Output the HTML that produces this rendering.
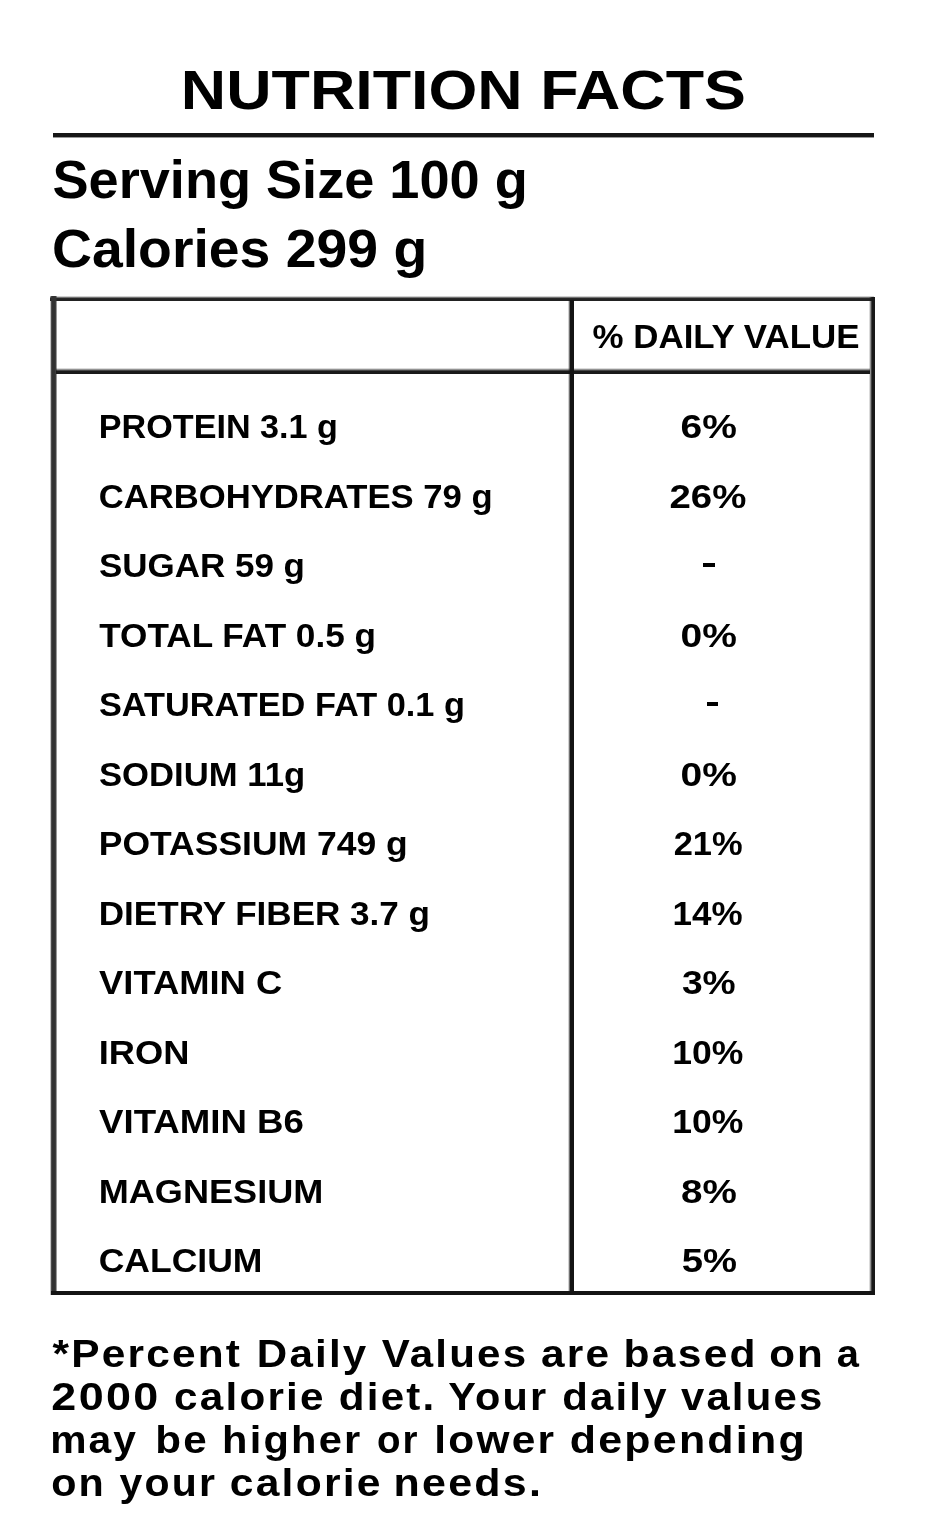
<!DOCTYPE html>
<html><head><meta charset="utf-8"><title>Nutrition Facts</title>
<style>
html,body{margin:0;padding:0;background:#fff}
body{width:940px;height:1523px;position:relative;overflow:hidden;font-family:"Liberation Sans",sans-serif}
#w{position:absolute;left:0;top:0;width:940px;height:1523px;filter:blur(0.75px)}
.r{position:absolute}
svg{position:absolute;left:0;top:0}
svg text{font-family:"Liberation Sans",sans-serif;font-weight:bold;fill:#000;white-space:pre}
</style></head><body><div id="w">
<div class="r" style="left:53.3px;top:132.8px;width:821.1px;height:5.2px;background:linear-gradient(to bottom,rgba(22,22,22,0) 0px,rgba(22,22,22,1) 0.5px,rgba(22,22,22,1) 3.6px,rgba(22,22,22,0) 5.2px)"></div>
<div class="r" style="left:50.4px;top:295.6px;width:824.1px;height:5.8px;background:linear-gradient(to bottom,rgba(34,34,34,0) 0px,rgba(34,34,34,0.6) 1.4px,rgba(34,34,34,1) 2.6px,rgba(34,34,34,1) 5.8px)"></div>
<div class="r" style="left:49.6px;top:296.2px;width:7.6px;height:998.4px;background:linear-gradient(to right,rgba(50,50,50,0) 0px,rgba(50,50,50,1) 1.7px,rgba(50,50,50,1) 5.4px,rgba(50,50,50,0) 7.6px)"></div>
<div class="r" style="left:868.6px;top:297px;width:6.0px;height:997.6px;background:linear-gradient(to right,rgba(24,24,24,0) 0px,rgba(24,24,24,0.5) 1.6px,rgba(24,24,24,1) 3.0px,rgba(24,24,24,1) 6px)"></div>
<div class="r" style="left:50.6px;top:1291px;width:824.0px;height:3.7px;background:#141414"></div>
<div class="r" style="left:56px;top:367.9px;width:814px;height:6.5px;background:linear-gradient(to bottom,rgba(26,26,26,0) 0px,rgba(26,26,26,0.5) 1.6px,rgba(26,26,26,1) 3.1px,rgba(26,26,26,1) 6.5px)"></div>
<div class="r" style="left:567.9px;top:300px;width:6.0px;height:992px;background:linear-gradient(to right,rgba(20,20,20,0) 0px,rgba(20,20,20,0.5) 1.3px,rgba(20,20,20,1) 2.2px,rgba(20,20,20,1) 6px)"></div>
<div class="r" style="left:702.6px;top:562.9px;width:12.0px;height:4.4px;background:#000"></div>
<div class="r" style="left:706.6px;top:701.9px;width:11.6px;height:4.3px;background:#000"></div>
<svg width="940" height="1523" viewBox="0 0 940 1523">
<text transform="translate(180.86 108.80) scale(1.1317 1)" font-size="55.5">NUTRITION FACTS</text>
<text transform="translate(52.51 197.50) scale(0.9932 1)" font-size="54.5">Serving Size 100 g</text>
<text transform="translate(52.02 266.70) scale(1.0153 1)" font-size="54.5">Calories 299 g</text>
<text transform="translate(592.59 347.50) scale(1.0800 1)" font-size="32.3">% DAILY VALUE</text>
<text transform="translate(98.84 438.00) scale(1.0043 1)" font-size="34.0">PROTEIN 3.1 g</text>
<text transform="translate(98.67 507.52) scale(1.0192 1)" font-size="34.0">CARBOHYDRATES 79 g</text>
<text transform="translate(98.97 577.04) scale(1.0289 1)" font-size="34.0">SUGAR 59 g</text>
<text transform="translate(99.28 646.56) scale(1.0342 1)" font-size="34.0">TOTAL FAT 0.5 g</text>
<text transform="translate(98.99 716.08) scale(1.0092 1)" font-size="34.0">SATURATED FAT 0.1 g</text>
<text transform="translate(98.98 785.60) scale(1.0199 1)" font-size="34.0">SODIUM 11g</text>
<text transform="translate(98.75 855.12) scale(1.0446 1)" font-size="34.0">POTASSIUM 749 g</text>
<text transform="translate(98.78 924.64) scale(1.0316 1)" font-size="34.0">DIETRY FIBER 3.7 g</text>
<text transform="translate(99.03 994.16) scale(1.0700 1)" font-size="34.0">VITAMIN C</text>
<text transform="translate(98.70 1063.68) scale(1.0671 1)" font-size="34.0">IRON</text>
<text transform="translate(99.03 1133.20) scale(1.0776 1)" font-size="34.0">VITAMIN B6</text>
<text transform="translate(98.71 1202.72) scale(1.0623 1)" font-size="34.0">MAGNESIUM</text>
<text transform="translate(98.63 1272.24) scale(1.0458 1)" font-size="34.0">CALCIUM</text>
<text transform="translate(680.57 438.00) scale(1.1468 1)" font-size="34.0">6%</text>
<text transform="translate(669.49 507.52) scale(1.1288 1)" font-size="34.0">26%</text>
<text transform="translate(680.57 646.56) scale(1.1468 1)" font-size="34.0">0%</text>
<text transform="translate(680.57 785.60) scale(1.1468 1)" font-size="34.0">0%</text>
<text transform="translate(673.63 855.12) scale(1.0136 1)" font-size="34.0">21%</text>
<text transform="translate(672.58 924.64) scale(1.0292 1)" font-size="34.0">14%</text>
<text transform="translate(681.88 994.16) scale(1.0947 1)" font-size="34.0">3%</text>
<text transform="translate(672.15 1063.68) scale(1.0446 1)" font-size="34.0">10%</text>
<text transform="translate(672.15 1133.20) scale(1.0446 1)" font-size="34.0">10%</text>
<text transform="translate(681.06 1202.72) scale(1.1365 1)" font-size="34.0">8%</text>
<text transform="translate(681.68 1272.24) scale(1.1238 1)" font-size="34.0">5%</text>
<text transform="translate(52.52 1366.70) scale(1.1097 1)" font-size="38.2" letter-spacing="2.0">*Percent</text>
<text transform="translate(256.84 1366.70) scale(1.1026 1)" font-size="38.2" letter-spacing="2.0">Daily</text>
<text transform="translate(381.82 1366.70) scale(1.1010 1)" font-size="38.2" letter-spacing="2.0">Values</text>
<text transform="translate(540.99 1366.70) scale(1.1102 1)" font-size="38.2" letter-spacing="2.0">are</text>
<text transform="translate(623.61 1366.70) scale(1.1143 1)" font-size="38.2" letter-spacing="2.0">based</text>
<text transform="translate(769.14 1366.70) scale(1.1039 1)" font-size="38.2" letter-spacing="2.0">on</text>
<text transform="translate(836.76 1366.70) scale(1.0439 1)" font-size="38.2" letter-spacing="2.0">a</text>
<text transform="translate(51.33 1409.60) scale(1.1751 1)" font-size="38.2" letter-spacing="2.0">2000</text>
<text transform="translate(174.04 1409.60) scale(1.1062 1)" font-size="38.2" letter-spacing="2.0">calorie</text>
<text transform="translate(338.85 1409.60) scale(1.1030 1)" font-size="38.2" letter-spacing="2.0">diet.</text>
<text transform="translate(448.19 1409.60) scale(1.0851 1)" font-size="38.2" letter-spacing="2.0">Your</text>
<text transform="translate(562.15 1409.60) scale(1.0981 1)" font-size="38.2" letter-spacing="2.0">daily</text>
<text transform="translate(680.93 1409.60) scale(1.0961 1)" font-size="38.2" letter-spacing="2.0">values</text>
<text transform="translate(50.13 1452.70) scale(1.0675 1)" font-size="38.2" letter-spacing="2.0">may</text>
<text transform="translate(155.34 1452.70) scale(1.1041 1)" font-size="38.2" letter-spacing="2.0">be</text>
<text transform="translate(222.10 1452.70) scale(1.0899 1)" font-size="38.2" letter-spacing="2.0">higher</text>
<text transform="translate(376.99 1452.70) scale(1.0079 1)" font-size="38.2" letter-spacing="2.0">or</text>
<text transform="translate(434.34 1452.70) scale(1.1110 1)" font-size="38.2" letter-spacing="2.0">lower</text>
<text transform="translate(569.71 1452.70) scale(1.1239 1)" font-size="38.2" letter-spacing="2.0">depending</text>
<text transform="translate(51.18 1496.20) scale(1.0816 1)" font-size="38.2" letter-spacing="2.0">on</text>
<text transform="translate(119.53 1496.20) scale(1.0739 1)" font-size="38.2" letter-spacing="2.0">your</text>
<text transform="translate(229.83 1496.20) scale(1.1138 1)" font-size="38.2" letter-spacing="2.0">calorie</text>
<text transform="translate(393.49 1496.20) scale(1.1252 1)" font-size="38.2" letter-spacing="2.0">needs.</text>
</svg>
</div></body></html>
